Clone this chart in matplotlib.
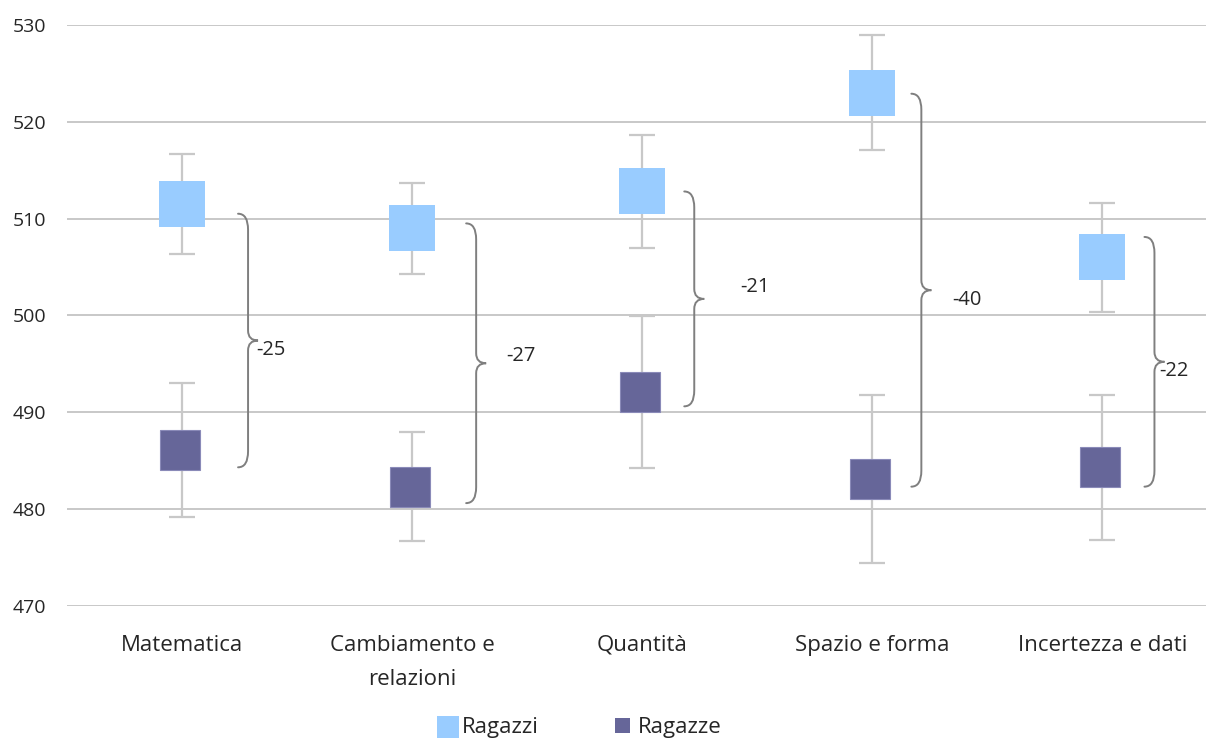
import matplotlib
matplotlib.use("Agg")

import numpy as np
import matplotlib.pyplot as plt
from matplotlib.path import Path
from matplotlib.patches import PathPatch, Rectangle

plt.rcParams["font.family"] = ["Open Sans", "DejaVu Sans"]

categories = ["Matematica", "Cambiamento e\nrelazioni", "Quantità", "Spazio e forma", "Incertezza e dati"]
ragazzi = [511.5, 509.0, 512.8, 523.0, 506.0]
ragazzi_err = [5.2, 4.7, 5.85, 5.95, 5.65]
ragazze = [486.1, 482.3, 492.1, 483.1, 484.3]
ragazze_err = [6.95, 5.65, 7.85, 8.7, 7.5]

C_BOYS = "#99CCFF"
C_GIRLS = "#666699"
C_ERR = "#C8C8C8"
C_GRID = "#C4C4C4"
C_BRACE = "#7F7F7F"
C_TEXT = "#262626"

W, H, DPI = 1206, 738, 100
fig = plt.figure(figsize=(W / DPI, H / DPI), dpi=DPI)
ax = fig.add_axes([67 / W, 132.3 / H, 1 - 67 / W, (605.7 - 25) / H])

x = np.arange(len(categories))
ax.set_xlim(-0.5, 4.45)
ax.set_ylim(470, 530)

ax.errorbar(x, ragazzi, yerr=ragazzi_err, fmt="none", ecolor=C_ERR,
            elinewidth=1.6, capsize=9.5, capthick=1.6, zorder=2)
ax.errorbar(x, ragazze, yerr=ragazze_err, fmt="none", ecolor=C_ERR,
            elinewidth=1.6, capsize=9.5, capthick=1.6, zorder=2)
ax.plot(x, ragazzi, "s", ms=33, color=C_BOYS, mec=C_BOYS, mew=0, ls="none", zorder=3)
ax.plot(x - 0.009, ragazze, "s", ms=28.5, color=C_GIRLS, mec="#8A8AB8", mew=0.8,
        ls="none", zorder=3)

# grid and axes styling
ax.set_yticks(np.arange(470, 531, 10))
ax.yaxis.grid(True, color=C_GRID, lw=1.3)
ax.set_axisbelow(True)
for s in ax.spines.values():
    s.set_visible(False)
ax.tick_params(axis="both", length=0, colors=C_TEXT, labelsize=14)
ax.tick_params(axis="y", pad=15)
ax.tick_params(axis="x", pad=21)
ax.set_xticks(x)
ax.set_xticklabels(categories, fontsize=16, linespacing=1.85, va="top")

# curly braces showing the girls-boys gap
fig.canvas.draw()
px_x = ax.bbox.width / (ax.get_xlim()[1] - ax.get_xlim()[0])
px_y = ax.bbox.height / (ax.get_ylim()[1] - ax.get_ylim()[0])

brace_dx = [56, 54, 42, 39, 42]          # px from category centre to brace tip
top_pad = [-1.0, 0.5, 0.0, -0.1, 2.1]
bottom_pad = [-1.8, -1.7, -1.5, -0.8, -2.0]
label_dx = [74, 94, 98, 80, 57]          # px from category centre to label
label_dy = [-1.0, 0.75, 1.2, -1.0, -0.9]

r_top = 16 / px_y
r_mid = 10 / px_y
for i in range(len(categories)):
    top = ragazzi[i] + top_pad[i]
    bot = ragazze[i] + bottom_pad[i]
    mid = (top + bot) / 2
    x0 = i + brace_dx[i] / px_x
    xs = x0 + 10 / px_x
    xp = xs + 10 / px_x
    verts = [(x0, top), (xs, top), (xs, top - r_top),
             (xs, mid + r_mid), (xs, mid), (xp, mid),
             (xs, mid), (xs, mid - r_mid),
             (xs, bot + r_top), (xs, bot), (x0, bot)]
    codes = [Path.MOVETO, Path.CURVE3, Path.CURVE3,
             Path.LINETO, Path.CURVE3, Path.CURVE3,
             Path.CURVE3, Path.CURVE3,
             Path.LINETO, Path.CURVE3, Path.CURVE3]
    ax.add_patch(PathPatch(Path(verts, codes), fill=False, ec=C_BRACE, lw=1.4,
                           capstyle="round", zorder=4))
    gap = round(ragazze[i] - ragazzi[i])
    ax.text(i + label_dx[i] / px_x, mid + label_dy[i], f"{gap}", fontsize=14.5,
            color=C_TEXT, ha="left", va="center", zorder=5)

# legend
fig.add_artist(Rectangle((436.7 / W, 0), 22.6 / W, 22 / H, transform=fig.transFigure,
                         color=C_BOYS, lw=0))
fig.text(461.7 / W, 11 / H, "Ragazzi", fontsize=16, color=C_TEXT, ha="left", va="center")
fig.add_artist(Rectangle((615 / W, 5 / H), 15 / W, 15 / H, transform=fig.transFigure,
                         color=C_GIRLS, lw=0))
fig.text(638 / W, 11 / H, "Ragazze", fontsize=16, color=C_TEXT, ha="left", va="center")

fig.savefig("out.png", dpi=DPI)
